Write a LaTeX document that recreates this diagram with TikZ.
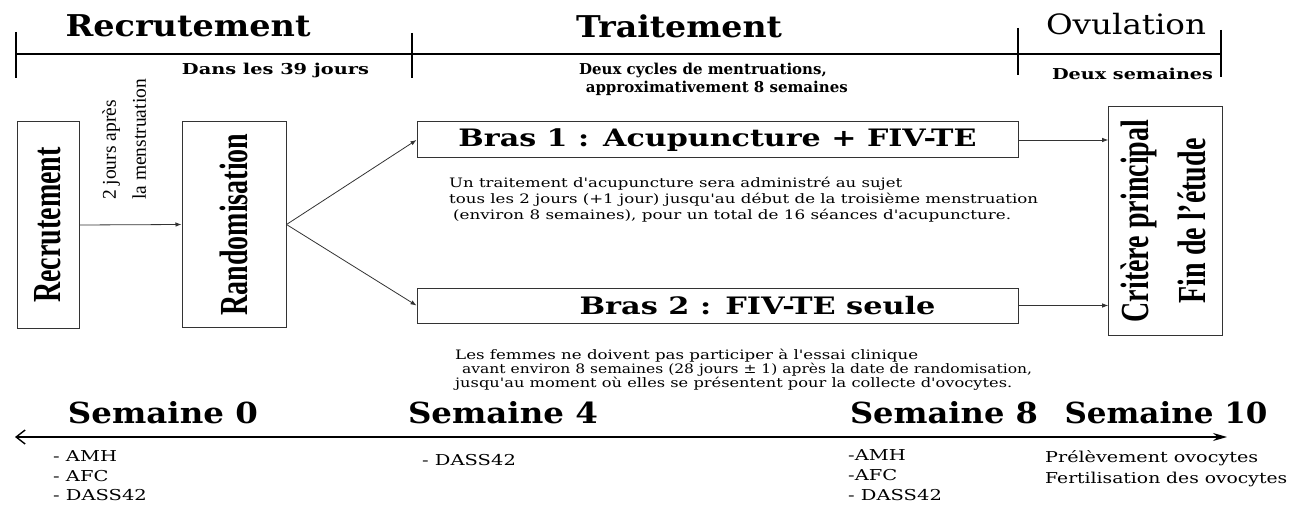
\documentclass[tikz,border=0pt]{standalone}
\usepackage{fontspec}
\usepackage{graphicx}
\setmainfont{Liberation Serif}
\newfontfamily\dvs{DejaVu Serif}
\usetikzlibrary{arrows.meta}
\newcommand\fw[2]{\resizebox{#1pt}{\height}{#2}}
\newcommand\lx[1]{\scalebox{1.3}[1]{#1}}
\newcommand\vt[1]{\rotatebox{90}{\scalebox{1}[1.42]{#1}}}
\tikzset{
  box/.style={draw=black!80, line width=1pt, inner sep=0pt},
  arr/.style={draw=black!80, line width=0.8pt, -{Latex[length=6pt,width=4.5pt]}},
  hdr/.style={inner sep=0pt, font=\dvs\bfseries\fontsize{30}{36}\selectfont},
  sub/.style={inner sep=0pt, font=\dvs\bfseries\fontsize{15}{18}\selectfont},
  txt/.style={inner sep=0pt, anchor=west, font=\dvs\fontsize{13}{15}\selectfont},
  week/.style={inner sep=0pt, font=\dvs\bfseries\fontsize{29}{34}\selectfont},
  lst/.style={inner sep=0pt, anchor=west, font=\dvs\fontsize{15}{18}\selectfont},
  vbox/.style={font=\bfseries\fontsize{28}{40}\selectfont},
  tl/.style={line width=1.3pt},
  tick/.style={line width=2pt},
}
\begin{document}
\begin{tikzpicture}[x=1pt,y=-1pt]
\useasboundingbox[fill=white] (0,0) rectangle (1293,505);
% ---------- top timeline
\coordinate (t0) at (16,54);
\coordinate (t3) at (1221,54);
\draw[tl] (t0) -- (t3);
\draw[tick] (16,32) -- (16,78);
\draw[tick] (412,33) -- (412,78);
\draw[tick] (1018,28) -- (1018,75);
\draw[tick] (1221,30) -- (1221,77);
\node[hdr] (hrec) at (188,26) {\fw{245}{Recrutement}};
\node[hdr] (htra) at (679,26) {\fw{206}{Traitement}};
\node[hdr, font=\dvs\fontsize{28}{34}\selectfont] (hovu) at (1126,24) {\fw{160}{Ovulation}};
\node[sub] (s1) at (275.5,70) {\fw{187}{Dans les 39 jours}};
\node[sub, anchor=east] (s2a) at (827,70) {Deux cycles de mentruations,};
\node[sub, anchor=east] (s2b) at (848,88) {approximativement 8 semaines};
\node[sub] (s3) at (1132.5,74) {\fw{161}{Deux semaines}};
% ---------- boxes
\node[box, vbox, minimum width=62pt, minimum height=206pt] (recr) at (48,225) {\vt{Recrutement}};
\node[box, vbox, minimum width=104pt, minimum height=205pt] (rand) at (234,224.5) {\vt{Randomisation}};
\node[box, minimum width=601pt, minimum height=36pt, font=\dvs\bfseries\fontsize{24}{28}\selectfont] (bras1) at (717.5,140) {\fw{518}{Bras 1 : Acupuncture + FIV-TE}};
\node[box, minimum width=601pt, minimum height=35pt, font=\dvs\bfseries\fontsize{24}{28}\selectfont] (bras2) at (717.5,305.5) {\hspace*{80pt}\fw{356}{Bras 2 : FIV-TE seule}};
\node[box, vbox, minimum width=103pt, minimum height=228pt] (crit) at (1165.5,221) {\vt{\begin{tabular}{@{}c@{}}Critère principal\\Fin de l'étude\end{tabular}}};
\node[rotate=90, anchor=north west, inner sep=0pt, align=left, font=\fontsize{19.5}{30}\selectfont] (lbl) at (102,200) {2 jours après\\la menstruation};
% ---------- connectors
\draw[arr] (recr.east) -- (rand.west);
\draw[arr] (rand.east) -- (bras1.west);
\draw[arr] (rand.east) -- (bras2.west);
\draw[arr] (bras1.east) -- (crit.west |- bras1.east);
\draw[arr] (bras2.east) -- (crit.west |- bras2.east);
% ---------- paragraphs
\node[txt] (u1) at (449,184) {\fw{453}{Un traitement d'acupuncture sera administré au sujet}};
\node[txt] (u2) at (449,200) {\fw{589}{tous les 2 jours (+1 jour) jusqu'au début de la troisième menstruation}};
\node[txt] (u3) at (453,216) {\fw{558}{(environ 8 semaines), pour un total de 16 séances d'acupuncture.}};
\node[txt] (l1) at (455,356) {\fw{463}{Les femmes ne doivent pas participer à l'essai clinique}};
\node[txt] (l2) at (462,370) {\fw{570}{avant environ 8 semaines (28 jours ± 1) après la date de randomisation,}};
\node[txt] (l3) at (455,384) {\fw{557}{jusqu'au moment où elles se présentent pour la collecte d'ovocytes.}};
% ---------- bottom timeline
\coordinate (b0) at (15,437);
\coordinate (b1) at (1227,437);
\draw[line width=1.4pt, {Straight Barb[length=9pt,width=14pt]}-{Stealth[length=14pt,width=8pt]}] (b0) -- (b1);
\node[week] (w0) at (163,413) {\fw{190}{Semaine 0}};
\node[week] (w4) at (503,413) {\fw{190}{Semaine 4}};
\node[week] (w8) at (944,413) {\fw{188}{Semaine 8}};
\node[week] (w10) at (1166,413) {\fw{203}{Semaine 10}};
\node[lst] (a1) at (53,456) {\lx{- AMH}};
\node[lst] (a2) at (53,476) {\lx{- AFC}};
\node[lst] (a3) at (53,495) {\lx{- DASS42}};
\node[lst] (b4) at (422,460) {\lx{- DASS42}};
\node[lst] (c1) at (848,455) {\lx{-AMH}};
\node[lst] (c2) at (848,475) {\lx{-AFC}};
\node[lst] (c3) at (848,495) {\lx{- DASS42}};
\node[lst] (d1) at (1045,458) {\fw{213}{Prélèvement ovocytes}};
\node[lst] (d2) at (1045,479) {\fw{242}{Fertilisation des ovocytes}};
\end{tikzpicture}
\end{document}
